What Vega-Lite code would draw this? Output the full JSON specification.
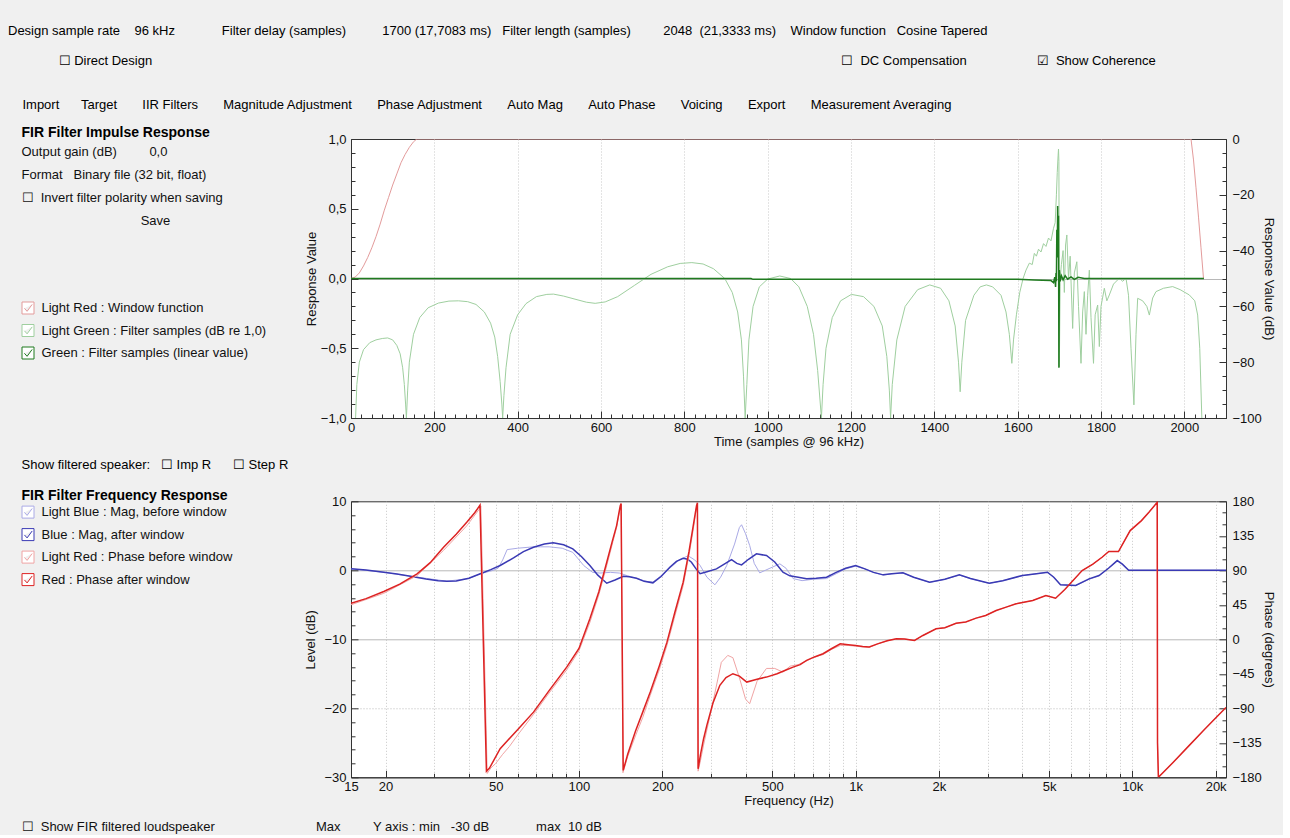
{
  "$schema": "https://vega.github.io/schema/vega-lite/v6.json",
  "background": "#f0f0f0",
  "padding": {"left": 8, "top": 24, "right": 8, "bottom": 0},
  "title": {
    "text": "Design sample rate\u00a0\u00a0\u00a0\u00a096 kHz\u00a0\u00a0\u00a0\u00a0\u00a0\u00a0\u00a0\u00a0\u00a0\u00a0\u00a0\u00a0\u00a0Filter delay (samples)\u00a0\u00a0\u00a0\u00a0\u00a0\u00a0\u00a0\u00a0\u00a0\u00a01700\u00a0(17,7083 ms)\u00a0\u00a0\u00a0Filter length (samples)\u00a0\u00a0\u00a0\u00a0\u00a0\u00a0\u00a0\u00a0\u00a02048\u00a0\u00a0(21,3333 ms)\u00a0\u00a0\u00a0\u00a0Window function\u00a0\u00a0\u00a0Cosine Tapered",
    "subtitle": [
      "\u200b\u00a0\u00a0\u00a0\u00a0\u00a0\u00a0\u00a0\u00a0\u00a0\u00a0\u00a0\u00a0\u00a0\u00a0☐\u00a0Direct Design\u2003\u2003\u2003\u2003\u2003\u2003\u2003\u2003\u2003\u2003\u2003\u2003\u2003\u2003\u2003\u2003\u2003\u2003\u2003\u2003\u2003\u2003\u2003\u2003\u2003\u2003\u2003\u2003\u2003\u2003\u2003\u2003\u2003\u2003\u2003\u2003\u2003\u2003\u2003\u2003\u2003\u2003\u2003\u2003\u2003\u2003\u2003\u2003\u2003\u2003\u2003\u2003\u2003☐\u00a0\u00a0DC Compensation\u2003\u2003\u2003\u2003\u00a0\u00a0\u00a0\u00a0\u00a0☑\u00a0\u00a0Show Coherence",
      "\u200b\u00a0\u00a0\u00a0\u00a0Import\u00a0\u00a0\u00a0\u00a0\u00a0\u00a0Target\u00a0\u00a0\u00a0\u00a0\u00a0\u00a0\u00a0IIR Filters\u00a0\u00a0\u00a0\u00a0\u00a0\u00a0\u00a0Magnitude Adjustment\u00a0\u00a0\u00a0\u00a0\u00a0\u00a0\u00a0Phase Adjustment\u00a0\u00a0\u00a0\u00a0\u00a0\u00a0\u00a0Auto Mag\u00a0\u00a0\u00a0\u00a0\u00a0\u00a0\u00a0Auto Phase\u00a0\u00a0\u00a0\u00a0\u00a0\u00a0\u00a0Voicing\u00a0\u00a0\u00a0\u00a0\u00a0\u00a0\u00a0Export\u00a0\u00a0\u00a0\u00a0\u00a0\u00a0\u00a0Measurement Averaging"
    ],
    "anchor": "start",
    "frame": "bounds",
    "dx": -13,
    "fontSize": 13,
    "fontWeight": "normal",
    "color": "#000",
    "subtitleFontSize": 13,
    "subtitleColor": "#000",
    "subtitleLineHeight": 44,
    "subtitlePadding": 17,
    "offset": 14
  },
  "datasets": {
    "ir_window": [
      {"t": 0, "v": 0}, {"t": 10, "v": 0.01}, {"t": 20, "v": 0.04}, {"t": 30, "v": 0.09}, {"t": 40, "v": 0.15},
      {"t": 50, "v": 0.22}, {"t": 60, "v": 0.3}, {"t": 70, "v": 0.39}, {"t": 80, "v": 0.49}, {"t": 90, "v": 0.58},
      {"t": 100, "v": 0.67}, {"t": 110, "v": 0.75}, {"t": 120, "v": 0.83}, {"t": 130, "v": 0.89}, {"t": 140, "v": 0.94},
      {"t": 150, "v": 0.98}, {"t": 158, "v": 1}, {"t": 2016, "v": 1}, {"t": 2022, "v": 0.85}, {"t": 2028, "v": 0.65},
      {"t": 2034, "v": 0.44}, {"t": 2040, "v": 0.22}, {"t": 2046, "v": 0}
    ],
    "ir_lin": [
      {"t": 0, "v": 0}, {"t": 960, "v": 0}, {"t": 965, "v": -0.006}, {"t": 1600, "v": -0.006}, {"t": 1640, "v": -0.01},
      {"t": 1680, "v": -0.015}, {"t": 1686, "v": -0.03}, {"t": 1689, "v": 0.01}, {"t": 1691, "v": -0.06}, {"t": 1692, "v": 0.04},
      {"t": 1693, "v": -0.02}, {"t": 1694, "v": 0.35}, {"t": 1695, "v": 0.15}, {"t": 1696, "v": 0.52}, {"t": 1697, "v": 0.25},
      {"t": 1698, "v": 0.45}, {"t": 1699, "v": -0.64}, {"t": 1700, "v": 0.06}, {"t": 1702, "v": -0.02}, {"t": 1705, "v": 0.02},
      {"t": 1709, "v": -0.01}, {"t": 1714, "v": 0.02}, {"t": 1720, "v": -0.005}, {"t": 1728, "v": 0.012}, {"t": 1736, "v": -0.006},
      {"t": 1745, "v": 0.008}, {"t": 1760, "v": 0}, {"t": 2047, "v": 0}
    ],
    "ir_db": [
      {"t": 11, "db": -100}, {"t": 14, "db": -88}, {"t": 20, "db": -80}, {"t": 30, "db": -75.5}, {"t": 45, "db": -73},
      {"t": 60, "db": -72}, {"t": 75, "db": -71.5}, {"t": 88, "db": -71.3}, {"t": 100, "db": -72}, {"t": 110, "db": -74},
      {"t": 118, "db": -77}, {"t": 124, "db": -82}, {"t": 128, "db": -88}, {"t": 131, "db": -95}, {"t": 133, "db": -100},
      {"t": 136, "db": -90}, {"t": 140, "db": -80}, {"t": 150, "db": -70}, {"t": 165, "db": -64}, {"t": 185, "db": -60.5},
      {"t": 210, "db": -58.8}, {"t": 235, "db": -58.1}, {"t": 258, "db": -58}, {"t": 280, "db": -58.3}, {"t": 300, "db": -59.3},
      {"t": 320, "db": -62}, {"t": 335, "db": -66}, {"t": 345, "db": -71}, {"t": 352, "db": -78}, {"t": 358, "db": -87},
      {"t": 362, "db": -95}, {"t": 364, "db": -100}, {"t": 367, "db": -92}, {"t": 372, "db": -82}, {"t": 382, "db": -70},
      {"t": 400, "db": -63}, {"t": 420, "db": -59}, {"t": 445, "db": -56.5}, {"t": 470, "db": -55.7}, {"t": 486, "db": -55.6},
      {"t": 510, "db": -56.3}, {"t": 540, "db": -57.5}, {"t": 565, "db": -58.5}, {"t": 586, "db": -58.9}, {"t": 610, "db": -58.4},
      {"t": 640, "db": -56.5}, {"t": 680, "db": -52.5}, {"t": 720, "db": -48.5}, {"t": 760, "db": -45.8}, {"t": 790, "db": -44.6},
      {"t": 818, "db": -44.3}, {"t": 845, "db": -44.8}, {"t": 870, "db": -46.5}, {"t": 897, "db": -50}, {"t": 915, "db": -55},
      {"t": 928, "db": -62}, {"t": 937, "db": -72}, {"t": 942, "db": -85}, {"t": 946, "db": -100}, {"t": 950, "db": -88},
      {"t": 955, "db": -72}, {"t": 965, "db": -60}, {"t": 980, "db": -53}, {"t": 1000, "db": -50.2}, {"t": 1029, "db": -49.1},
      {"t": 1055, "db": -50}, {"t": 1075, "db": -53}, {"t": 1095, "db": -60}, {"t": 1110, "db": -70}, {"t": 1120, "db": -83},
      {"t": 1129, "db": -100}, {"t": 1133, "db": -88}, {"t": 1140, "db": -75}, {"t": 1155, "db": -64}, {"t": 1175, "db": -58},
      {"t": 1201, "db": -55.7}, {"t": 1230, "db": -56.5}, {"t": 1255, "db": -60}, {"t": 1275, "db": -67}, {"t": 1286, "db": -78},
      {"t": 1292, "db": -90}, {"t": 1295, "db": -100}, {"t": 1299, "db": -88}, {"t": 1310, "db": -72}, {"t": 1330, "db": -60},
      {"t": 1360, "db": -54}, {"t": 1389, "db": -52.3}, {"t": 1415, "db": -53.5}, {"t": 1435, "db": -58}, {"t": 1450, "db": -67},
      {"t": 1458, "db": -80}, {"t": 1462, "db": -90.6}, {"t": 1466, "db": -80}, {"t": 1475, "db": -65}, {"t": 1495, "db": -56},
      {"t": 1510, "db": -53}, {"t": 1525, "db": -52.3}, {"t": 1540, "db": -53}, {"t": 1560, "db": -56}, {"t": 1572, "db": -62},
      {"t": 1580, "db": -70}, {"t": 1586, "db": -80.4}, {"t": 1590, "db": -72}, {"t": 1597, "db": -63}, {"t": 1605, "db": -55},
      {"t": 1613, "db": -50}, {"t": 1620, "db": -47}, {"t": 1628, "db": -44.5}, {"t": 1635, "db": -45}, {"t": 1640, "db": -41},
      {"t": 1645, "db": -42}, {"t": 1650, "db": -39.5}, {"t": 1656, "db": -40.5}, {"t": 1662, "db": -37.5}, {"t": 1668, "db": -38.5},
      {"t": 1674, "db": -35.5}, {"t": 1680, "db": -36.5}, {"t": 1686, "db": -32}, {"t": 1690, "db": -30}, {"t": 1693, "db": -20},
      {"t": 1695, "db": -12}, {"t": 1697, "db": -6}, {"t": 1698, "db": -3.6}, {"t": 1699, "db": -8}, {"t": 1700, "db": -81.6},
      {"t": 1702, "db": -50}, {"t": 1705, "db": -45}, {"t": 1709, "db": -40}, {"t": 1712, "db": -55}, {"t": 1715, "db": -38},
      {"t": 1718, "db": -34.4}, {"t": 1722, "db": -50}, {"t": 1726, "db": -42}, {"t": 1732, "db": -67.9}, {"t": 1736, "db": -48},
      {"t": 1742, "db": -44}, {"t": 1746, "db": -60}, {"t": 1752, "db": -80.4}, {"t": 1756, "db": -62}, {"t": 1760, "db": -54.7},
      {"t": 1764, "db": -70}, {"t": 1768, "db": -56}, {"t": 1772, "db": -47}, {"t": 1776, "db": -64}, {"t": 1782, "db": -80.4},
      {"t": 1786, "db": -63}, {"t": 1792, "db": -59.5}, {"t": 1796, "db": -74.4}, {"t": 1800, "db": -60}, {"t": 1808, "db": -53.5},
      {"t": 1814, "db": -58}, {"t": 1820, "db": -55.9}, {"t": 1830, "db": -52}, {"t": 1844, "db": -49.9}, {"t": 1852, "db": -51},
      {"t": 1860, "db": -49.9}, {"t": 1866, "db": -56}, {"t": 1872, "db": -75}, {"t": 1879, "db": -95.3}, {"t": 1884, "db": -70},
      {"t": 1888, "db": -57.1}, {"t": 1900, "db": -58}, {"t": 1910, "db": -60}, {"t": 1916, "db": -63.1}, {"t": 1924, "db": -57},
      {"t": 1932, "db": -54.7}, {"t": 1950, "db": -53.5}, {"t": 1972, "db": -52.9}, {"t": 1990, "db": -54}, {"t": 2012, "db": -55.9},
      {"t": 2025, "db": -58}, {"t": 2032, "db": -63.1}, {"t": 2037, "db": -75}, {"t": 2042, "db": -100}
    ],
    "fr_mag": [
      {"f": 15, "db": 0.21}, {"f": 19.7, "db": -0.28}, {"f": 24.6, "db": -0.86}, {"f": 33.3, "db": -1.58}, {"f": 40, "db": -1.2},
      {"f": 44, "db": -0.5}, {"f": 49, "db": 0.0}, {"f": 51, "db": 0.3}, {"f": 53, "db": 1.5}, {"f": 55, "db": 3.0},
      {"f": 60, "db": 3.2}, {"f": 68.5, "db": 3.4}, {"f": 78, "db": 3.4}, {"f": 87, "db": 3.2}, {"f": 95, "db": 2.6},
      {"f": 104, "db": 0.7}, {"f": 112, "db": -0.3}, {"f": 119, "db": -0.4}, {"f": 130, "db": -0.3}, {"f": 140, "db": -0.4},
      {"f": 150, "db": -0.8}, {"f": 161, "db": -1.15}, {"f": 175, "db": -1.6}, {"f": 185, "db": -1.7}, {"f": 198, "db": -0.8},
      {"f": 213, "db": 0.3}, {"f": 230, "db": 1.5}, {"f": 248, "db": 2.1}, {"f": 262, "db": 1.5}, {"f": 274, "db": 0.7},
      {"f": 290, "db": -1.0}, {"f": 310, "db": -2.1}, {"f": 325, "db": -1.0}, {"f": 342, "db": 0.7}, {"f": 365, "db": 3.8},
      {"f": 380, "db": 6.2}, {"f": 387, "db": 6.6}, {"f": 400, "db": 5.3}, {"f": 414, "db": 3.6}, {"f": 430, "db": 1.0},
      {"f": 450, "db": -0.37}, {"f": 490, "db": 0.3}, {"f": 532, "db": 0.94}, {"f": 560, "db": 0.3}, {"f": 594, "db": -1.2},
      {"f": 640, "db": -1.5}, {"f": 700, "db": -1.3}, {"f": 785, "db": -1.2}, {"f": 850, "db": -0.5}, {"f": 920, "db": 0.2},
      {"f": 1000, "db": 0.6}, {"f": 1080, "db": 0.2}, {"f": 1160, "db": -0.3}, {"f": 1258, "db": -0.7}, {"f": 1350, "db": -0.5},
      {"f": 1482, "db": -0.4}, {"f": 1620, "db": -1.0}, {"f": 1850, "db": -1.75}, {"f": 2100, "db": -1.3}, {"f": 2370, "db": -0.7},
      {"f": 2600, "db": -1.2}, {"f": 3040, "db": -1.9}, {"f": 3400, "db": -1.5}, {"f": 4000, "db": -0.8}, {"f": 4500, "db": -0.5},
      {"f": 4935, "db": -0.3}, {"f": 5200, "db": -1.0}, {"f": 5500, "db": -2.1}, {"f": 6240, "db": -2.2}, {"f": 6975, "db": -1.3},
      {"f": 7580, "db": -0.8}, {"f": 8200, "db": 0.3}, {"f": 8820, "db": 1.4}, {"f": 9200, "db": 0.9}, {"f": 9700, "db": 0},
      {"f": 21800, "db": 0}
    ],
    "fr_magw": [
      {"f": 15, "db": 0.21}, {"f": 17, "db": 0.05}, {"f": 19.7, "db": -0.28}, {"f": 22, "db": -0.55}, {"f": 24.6, "db": -0.86},
      {"f": 28, "db": -1.25}, {"f": 31, "db": -1.5}, {"f": 33.3, "db": -1.58}, {"f": 36, "db": -1.55}, {"f": 40, "db": -1.15},
      {"f": 44, "db": -0.5}, {"f": 48, "db": 0.1}, {"f": 51.9, "db": 0.7}, {"f": 58, "db": 1.8}, {"f": 63, "db": 2.7},
      {"f": 68.5, "db": 3.34}, {"f": 75, "db": 3.8}, {"f": 80.7, "db": 3.98}, {"f": 88, "db": 3.7}, {"f": 95, "db": 3.1},
      {"f": 102, "db": 2.0}, {"f": 109.5, "db": 0.7}, {"f": 117, "db": -0.7}, {"f": 126, "db": -1.87}, {"f": 135, "db": -1.4},
      {"f": 144.6, "db": -0.86}, {"f": 152, "db": -0.95}, {"f": 161.5, "db": -1.15}, {"f": 172, "db": -1.6}, {"f": 185, "db": -1.82},
      {"f": 198, "db": -0.9}, {"f": 213, "db": 0.45}, {"f": 225, "db": 1.3}, {"f": 238, "db": 1.75}, {"f": 247, "db": 1.6},
      {"f": 255, "db": 1.17}, {"f": 265, "db": 0.2}, {"f": 274, "db": -0.5}, {"f": 290, "db": -0.2}, {"f": 314, "db": 0.2},
      {"f": 335, "db": 0.9}, {"f": 356, "db": 1.56}, {"f": 372, "db": 1.0}, {"f": 387, "db": 0.79}, {"f": 410, "db": 1.6},
      {"f": 438, "db": 2.38}, {"f": 476, "db": 2.14}, {"f": 510, "db": 1.2}, {"f": 546, "db": -0.28}, {"f": 578, "db": -0.8},
      {"f": 620, "db": -1.0}, {"f": 665, "db": -1.24}, {"f": 720, "db": -1.15}, {"f": 785, "db": -1.0}, {"f": 850, "db": -0.3},
      {"f": 920, "db": 0.3}, {"f": 1000, "db": 0.7}, {"f": 1080, "db": 0.2}, {"f": 1160, "db": -0.3}, {"f": 1258, "db": -0.66},
      {"f": 1350, "db": -0.5}, {"f": 1482, "db": -0.37}, {"f": 1620, "db": -1.0}, {"f": 1850, "db": -1.73}, {"f": 2100, "db": -1.3},
      {"f": 2370, "db": -0.66}, {"f": 2600, "db": -1.2}, {"f": 3040, "db": -1.87}, {"f": 3400, "db": -1.5}, {"f": 4000, "db": -0.75},
      {"f": 4500, "db": -0.5}, {"f": 4935, "db": -0.28}, {"f": 5200, "db": -1.0}, {"f": 5500, "db": -2.1}, {"f": 6240, "db": -2.2},
      {"f": 6975, "db": -1.24}, {"f": 7580, "db": -0.75}, {"f": 8200, "db": 0.3}, {"f": 8820, "db": 1.41}, {"f": 9200, "db": 0.9},
      {"f": 9700, "db": 0}, {"f": 21800, "db": 0}
    ],
    "fr_ph": [
      {"f": 15, "deg": 45}, {"f": 19.7, "deg": 60}, {"f": 26, "deg": 83}, {"f": 32.4, "deg": 116}, {"f": 39.3, "deg": 148},
      {"f": 43.7, "deg": 170}, {"f": 44.2, "deg": 174}, {"f": 46.6, "deg": -175}, {"f": 48, "deg": -168}, {"f": 50, "deg": -162},
      {"f": 53, "deg": -150}, {"f": 56, "deg": -140}, {"f": 60, "deg": -125}, {"f": 68.5, "deg": -98}, {"f": 78, "deg": -70},
      {"f": 90.3, "deg": -40}, {"f": 100, "deg": -15}, {"f": 109.5, "deg": 22}, {"f": 118, "deg": 58}, {"f": 126, "deg": 96},
      {"f": 136.8, "deg": 146}, {"f": 141, "deg": 172}, {"f": 142, "deg": 176}, {"f": 144.2, "deg": -174}, {"f": 150, "deg": -153},
      {"f": 160, "deg": -126}, {"f": 170, "deg": -102}, {"f": 181, "deg": -73}, {"f": 195, "deg": -40}, {"f": 208, "deg": -8},
      {"f": 222, "deg": 30}, {"f": 238, "deg": 70}, {"f": 250, "deg": 110}, {"f": 258, "deg": 140}, {"f": 266, "deg": 172},
      {"f": 268, "deg": 176}, {"f": 269.5, "deg": -172}, {"f": 275, "deg": -158}, {"f": 282, "deg": -138}, {"f": 305, "deg": -82},
      {"f": 327, "deg": -30}, {"f": 345, "deg": -21}, {"f": 360, "deg": -24}, {"f": 380, "deg": -50}, {"f": 400, "deg": -78},
      {"f": 414, "deg": -84}, {"f": 440, "deg": -55}, {"f": 476, "deg": -38}, {"f": 510, "deg": -38}, {"f": 546, "deg": -42.8},
      {"f": 580, "deg": -35}, {"f": 620, "deg": -33}, {"f": 665, "deg": -28}, {"f": 710, "deg": -23}, {"f": 762, "deg": -20},
      {"f": 820, "deg": -13}, {"f": 880, "deg": -8}, {"f": 940, "deg": -8}, {"f": 1000, "deg": -9}, {"f": 1060, "deg": -10},
      {"f": 1120, "deg": -10.5}, {"f": 1200, "deg": -6}, {"f": 1300, "deg": -2}, {"f": 1404, "deg": 0.7}, {"f": 1500, "deg": 0.5},
      {"f": 1632, "deg": -1.5}, {"f": 1750, "deg": 5}, {"f": 1953, "deg": 13.8}, {"f": 2100, "deg": 15}, {"f": 2307, "deg": 21},
      {"f": 2500, "deg": 22.5}, {"f": 2725, "deg": 27.6}, {"f": 2950, "deg": 31}, {"f": 3220, "deg": 37.6}, {"f": 3500, "deg": 42},
      {"f": 3800, "deg": 46.3}, {"f": 4365, "deg": 50.6}, {"f": 4870, "deg": 57.1}, {"f": 5280, "deg": 53.6}, {"f": 5700, "deg": 65},
      {"f": 6585, "deg": 89.7}, {"f": 7200, "deg": 98}, {"f": 7770, "deg": 107}, {"f": 8220, "deg": 114.5}, {"f": 8910, "deg": 114.5},
      {"f": 9820, "deg": 141.8}, {"f": 10790, "deg": 154.8}, {"f": 11500, "deg": 166}, {"f": 12300, "deg": 178.7}, {"f": 12330, "deg": -135},
      {"f": 12420, "deg": -180}, {"f": 14000, "deg": -161}, {"f": 16000, "deg": -139}, {"f": 18000, "deg": -119.7}, {"f": 20000, "deg": -102.7},
      {"f": 21800, "deg": -89}
    ],
    "fr_phw": [
      {"f": 15, "deg": 47}, {"f": 17, "deg": 53}, {"f": 19.7, "deg": 62.4}, {"f": 22.5, "deg": 72}, {"f": 26, "deg": 85.4},
      {"f": 29, "deg": 100}, {"f": 32.4, "deg": 120}, {"f": 36, "deg": 137}, {"f": 39.3, "deg": 152.6}, {"f": 42, "deg": 165},
      {"f": 43.9, "deg": 175}, {"f": 46.3, "deg": -172}, {"f": 47.5, "deg": -168}, {"f": 51.9, "deg": -142.6}, {"f": 60, "deg": -118},
      {"f": 68.5, "deg": -95}, {"f": 78, "deg": -67}, {"f": 90.3, "deg": -36.3}, {"f": 100, "deg": -12}, {"f": 109.5, "deg": 26.8},
      {"f": 118, "deg": 62}, {"f": 126, "deg": 100.5}, {"f": 132, "deg": 128}, {"f": 136.8, "deg": 148.3}, {"f": 141, "deg": 174.4},
      {"f": 142, "deg": 177}, {"f": 144.5, "deg": -171}, {"f": 150, "deg": -150}, {"f": 160, "deg": -120}, {"f": 170, "deg": -95},
      {"f": 181, "deg": -68.8}, {"f": 195, "deg": -35}, {"f": 208, "deg": -3.7}, {"f": 222, "deg": 35}, {"f": 238, "deg": 74.5},
      {"f": 250, "deg": 115}, {"f": 258, "deg": 145}, {"f": 266, "deg": 174.4}, {"f": 268, "deg": 178}, {"f": 269.5, "deg": -169},
      {"f": 275, "deg": -150}, {"f": 282, "deg": -130}, {"f": 290, "deg": -112}, {"f": 305, "deg": -83}, {"f": 323, "deg": -60},
      {"f": 340, "deg": -50}, {"f": 360, "deg": -44.9}, {"f": 380, "deg": -48}, {"f": 404, "deg": -55.8}, {"f": 440, "deg": -52},
      {"f": 476, "deg": -49.3}, {"f": 520, "deg": -45}, {"f": 560, "deg": -40}, {"f": 594, "deg": -36.3}, {"f": 630, "deg": -33},
      {"f": 665, "deg": -27.5}, {"f": 710, "deg": -23}, {"f": 762, "deg": -18.8}, {"f": 820, "deg": -12}, {"f": 880, "deg": -5.8},
      {"f": 940, "deg": -7}, {"f": 1000, "deg": -8}, {"f": 1060, "deg": -9.3}, {"f": 1120, "deg": -10}, {"f": 1200, "deg": -6},
      {"f": 1300, "deg": -2}, {"f": 1404, "deg": 0.7}, {"f": 1500, "deg": 0.5}, {"f": 1632, "deg": -1.5}, {"f": 1750, "deg": 5},
      {"f": 1953, "deg": 13.8}, {"f": 2100, "deg": 15}, {"f": 2307, "deg": 21}, {"f": 2500, "deg": 22.5}, {"f": 2725, "deg": 27.6},
      {"f": 2950, "deg": 31}, {"f": 3220, "deg": 37.6}, {"f": 3500, "deg": 42}, {"f": 3800, "deg": 46.3}, {"f": 4365, "deg": 50.6},
      {"f": 4870, "deg": 57.1}, {"f": 5280, "deg": 53.6}, {"f": 5700, "deg": 65}, {"f": 6585, "deg": 89.7}, {"f": 7200, "deg": 98},
      {"f": 7770, "deg": 107}, {"f": 8220, "deg": 114.5}, {"f": 8910, "deg": 114.5}, {"f": 9820, "deg": 141.8}, {"f": 10790, "deg": 154.8},
      {"f": 11500, "deg": 166}, {"f": 12300, "deg": 178.7}, {"f": 12330, "deg": -135}, {"f": 12420, "deg": -180}, {"f": 14000, "deg": -161},
      {"f": 16000, "deg": -139}, {"f": 18000, "deg": -119.7}, {"f": 20000, "deg": -102.7}, {"f": 21800, "deg": -89}
    ]
  },
  "resolve": {"scale": {"color": "independent"}, "legend": {"color": "independent"}},
  "spacing": 8.3,
  "vconcat": [
    {
      "width": 875,
      "height": 279,
      "title": {"text": "FIR Filter Impulse Response", "anchor": "start", "frame": "bounds", "fontSize": 14, "fontWeight": "bold", "color": "#000", "offset": -7.3},
      "encoding": {
        "x": {
          "field": "t", "type": "quantitative",
          "scale": {"domain": [0, 2100], "nice": false},
          "axis": {
            "title": "Time (samples @ 96 kHz)",
            "values": [0,25,50,75,100,125,150,175,200,225,250,275,300,325,350,375,400,425,450,475,500,525,550,575,600,625,650,675,700,725,750,775,800,825,850,875,900,925,950,975,1000,1025,1050,1075,1100,1125,1150,1175,1200,1225,1250,1275,1300,1325,1350,1375,1400,1425,1450,1475,1500,1525,1550,1575,1600,1625,1650,1675,1700,1725,1750,1775,1800,1825,1850,1875,1900,1925,1950,1975,2000,2025,2050,2075,2100],
            "labelExpr": "datum.value % 200 === 0 ? format(datum.value, 'd') : ''",
            "labelOverlap": false,
            "tickSize": {"condition": {"test": "datum.value % 200 === 0", "value": -7}, "value": -4},
            "grid": true,
            "gridDash": [1, 2],
            "gridOpacity": {"condition": {"test": "datum.value % 200 === 0 && datum.value > 0", "value": 1}, "value": 0},
            "labelPadding": 10,
            "titlePadding": -2
          }
        }
      },
      "layer": [
        {
          "data": {"name": "ir_db"},
          "mark": {"type": "line", "strokeWidth": 1, "clip": true},
          "encoding": {
            "y": {
              "field": "db", "type": "quantitative",
              "scale": {"domain": [-100, 0], "nice": false},
              "axis": {
                "orient": "right",
                "title": "Response Value (dB)",
                "values": [-100,-95,-90,-85,-80,-75,-70,-65,-60,-55,-50,-45,-40,-35,-30,-25,-20,-15,-10,-5,0],
                "labelExpr": "datum.value % 20 === 0 ? format(datum.value, 'd') : ''",
                "labelOverlap": false,
                "tickSize": {"condition": {"test": "datum.value % 20 === 0", "value": -7}, "value": -4},
                "grid": false,
                "labelPadding": 13,
                "titlePadding": 0
              }
            },
            "color": {
              "datum": "Light Green : Filter samples (dB re 1,0)",
              "type": "nominal",
              "scale": {
                "domain": ["Light Red : Window function", "Light Green : Filter samples (dB re 1,0)", "Green : Filter samples (linear value)"],
                "range": ["#e39b9b", "#9fcf9f", "#1f7a1f"]
              },
              "legend": {
                "orient": "none",
                "legendX": -329.5,
                "legendY": 6.5,
                "title": ["Output gain (dB)\u00a0\u00a0\u00a0\u00a0\u00a0\u00a0\u00a0\u00a0\u00a00,0", "Format\u00a0\u00a0\u00a0Binary file (32 bit, float)", "☐\u00a0\u00a0Invert filter polarity when saving", "\u200b\u00a0\u00a0\u00a0\u00a0\u00a0\u00a0\u00a0\u00a0\u00a0\u00a0\u00a0\u00a0\u00a0\u00a0\u00a0\u00a0\u00a0\u00a0\u00a0\u00a0\u00a0\u00a0\u00a0\u00a0\u00a0\u00a0\u00a0\u00a0\u00a0\u00a0\u00a0\u00a0\u00a0Save"],
                "titleLineHeight": 23,
                "titlePadding": 74,
                "encode": {"symbols": {"update": {"stroke": {"value": "#444"}, "fill": {"value": "#fff"}, "strokeWidth": {"value": 1}}}}
              }
            }
          }
        },
        {
          "encoding": {
            "y": {
              "field": "v", "type": "quantitative",
              "scale": {"domain": [-1, 1], "nice": false},
              "axis": {
                "orient": "left",
                "title": "Response Value",
                "values": [-1,-0.9,-0.8,-0.7,-0.6,-0.5,-0.4,-0.3,-0.2,-0.1,0,0.1,0.2,0.3,0.4,0.5,0.6,0.7,0.8,0.9,1],
                "labelExpr": "abs(datum.value*2 - round(datum.value*2)) < 0.01 ? replace(format(datum.value, '.1f'), '.', ',') : ''",
                "labelOverlap": false,
                "tickSize": {"condition": {"test": "abs(datum.value*2 - round(datum.value*2)) < 0.01", "value": -7}, "value": -4},
                "grid": true,
                "gridColor": "#b8b8b8",
                "gridOpacity": {"condition": {"test": "abs(datum.value) < 0.01", "value": 1}, "value": 0},
                "labelPadding": 12,
                "titlePadding": 2
              }
            }
          },
          "layer": [
            {
              "data": {"name": "ir_window"},
              "mark": {"type": "line", "strokeWidth": 1, "clip": true},
              "encoding": {"color": {"datum": "Light Red : Window function", "type": "nominal"}}
            },
            {
              "data": {"name": "ir_lin"},
              "mark": {"type": "line", "strokeWidth": 1.5, "clip": true},
              "encoding": {"color": {"datum": "Green : Filter samples (linear value)", "type": "nominal"}}
            }
          ]
        }
      ],
      "resolve": {"scale": {"y": "independent"}}
    },
    {
      "width": 875,
      "height": 276,
      "title": {
        "text": "Show filtered speaker:\u00a0\u00a0\u00a0☐\u00a0Imp R\u00a0\u00a0\u00a0\u00a0\u00a0\u00a0☐\u00a0Step R",
        "subtitle": "FIR Filter Frequency Response",
        "anchor": "start", "frame": "bounds", "fontSize": 13, "fontWeight": "normal", "color": "#000",
        "subtitleFontSize": 14, "subtitleFontWeight": "bold", "subtitleColor": "#000", "subtitlePadding": 17, "offset": -7.3
      },
      "encoding": {
        "x": {
          "field": "f", "type": "quantitative",
          "scale": {"type": "log", "domain": [15, 21800], "nice": false},
          "axis": {
            "title": "Frequency (Hz)",
            "values": [15,20,30,40,50,60,70,80,90,100,200,300,400,500,600,700,800,900,1000,2000,3000,4000,5000,6000,7000,8000,9000,10000,20000],
            "labelExpr": "indexof([15,20,50,100,200,500], datum.value) >= 0 ? format(datum.value, 'd') : (indexof([1000,2000,5000,10000,20000], datum.value) >= 0 ? format(datum.value/1000, 'd') + 'k' : '')",
            "labelOverlap": false,
            "tickSize": {"condition": {"test": "indexof([15,20,50,100,200,500,1000,2000,5000,10000,20000], datum.value) >= 0", "value": -7}, "value": -4},
            "grid": true,
            "gridDash": [1, 2],
            "gridOpacity": {"condition": {"test": "datum.value > 15", "value": 1}, "value": 0},
            "labelPadding": 10,
            "titlePadding": -2
          }
        }
      },
      "layer": [
        {
          "encoding": {
            "y": {
              "field": "db", "type": "quantitative",
              "scale": {"domain": [-30, 10], "nice": false},
              "axis": {
                "orient": "left",
                "title": "Level (dB)",
                "values": [-30,-28,-26,-24,-22,-20,-18,-16,-14,-12,-10,-8,-6,-4,-2,0,2,4,6,8,10],
                "labelExpr": "datum.value % 10 === 0 ? format(datum.value, 'd') : ''",
                "labelOverlap": false,
                "tickSize": {"condition": {"test": "datum.value % 10 === 0", "value": -7}, "value": -4},
                "grid": true,
                "gridColor": "#b8b8b8",
                "gridDash": {"condition": {"test": "datum.value === -20", "value": [1, 2]}, "value": []},
                "gridOpacity": {"condition": {"test": "datum.value === 0 || datum.value === -10 || datum.value === -20", "value": 1}, "value": 0},
                "labelPadding": 12,
                "titlePadding": 6
              }
            }
          },
          "layer": [
            {
              "data": {"name": "fr_mag"},
              "mark": {"type": "line", "strokeWidth": 1, "clip": true},
              "encoding": {
                "color": {
                  "datum": "Light Blue : Mag, before window",
                  "type": "nominal",
                  "scale": {
                    "domain": ["Light Blue : Mag, before window", "Blue : Mag, after window", "Light Red : Phase before window", "Red : Phase after window"],
                    "range": ["#aaaae6", "#3a3ab4", "#f0a4a4", "#dd2222"]
                  },
                  "legend": {
                    "orient": "none", "legendX": -329.5, "legendY": 4.3,
                    "title": "☐\u00a0\u00a0Show FIR filtered loudspeaker\u00a0\u00a0\u00a0\u00a0\u00a0\u00a0\u00a0\u00a0\u00a0\u00a0\u00a0\u00a0\u00a0\u00a0\u00a0\u00a0\u00a0\u00a0\u00a0\u00a0\u00a0\u00a0\u00a0\u00a0\u00a0\u00a0\u00a0\u00a0Max\u00a0\u00a0\u00a0\u00a0\u00a0\u00a0\u00a0\u00a0\u00a0Y axis : min\u00a0\u00a0\u00a0-30 dB\u00a0\u00a0\u00a0\u00a0\u00a0\u00a0\u00a0\u00a0\u00a0\u00a0\u00a0\u00a0\u00a0max\u00a0\u00a010 dB",
                    "titleOrient": "bottom",
                    "titleAnchor": "start",
                    "titlePadding": 233,
                    "encode": {"symbols": {"update": {"stroke": {"value": "#444"}, "fill": {"value": "#fff"}, "strokeWidth": {"value": 1}}}}
                  }
                }
              }
            },
            {
              "data": {"name": "fr_magw"},
              "mark": {"type": "line", "strokeWidth": 1.5, "clip": true},
              "encoding": {"color": {"datum": "Blue : Mag, after window", "type": "nominal"}}
            }
          ]
        },
        {
          "encoding": {
            "y": {
              "field": "deg", "type": "quantitative",
              "scale": {"domain": [-180, 180], "nice": false},
              "axis": {
                "orient": "right",
                "title": "Phase (degrees)",
                "values": [-180,-165,-150,-135,-120,-105,-90,-75,-60,-45,-30,-15,0,15,30,45,60,75,90,105,120,135,150,165,180],
                "labelExpr": "datum.value % 45 === 0 ? format(datum.value, 'd') : ''",
                "labelOverlap": false,
                "tickSize": {"condition": {"test": "datum.value % 45 === 0", "value": -7}, "value": -4},
                "grid": false,
                "labelPadding": 13,
                "titlePadding": 0
              }
            }
          },
          "layer": [
            {
              "data": {"name": "fr_ph"},
              "mark": {"type": "line", "strokeWidth": 1, "clip": true},
              "encoding": {"color": {"datum": "Light Red : Phase before window", "type": "nominal"}}
            },
            {
              "data": {"name": "fr_phw"},
              "mark": {"type": "line", "strokeWidth": 1.5, "clip": true},
              "encoding": {"color": {"datum": "Red : Phase after window", "type": "nominal"}}
            }
          ]
        }
      ],
      "resolve": {"scale": {"y": "independent"}}
    }
  ],
  "config": {
    "font": "Liberation Sans",
    "view": {"fill": "white", "stroke": "#333", "strokeWidth": 1},
    "axis": {
      "labelFont": "Liberation Sans", "labelFontSize": 13, "labelColor": "#111",
      "titleFont": "Liberation Sans", "titleFontSize": 13, "titleFontWeight": "normal", "titleColor": "#111",
      "domainColor": "#333", "tickColor": "#333", "gridColor": "#c8c8c8",
      "labelOverlap": false, "labelFlush": false, "labelBound": false
    },
    "legend": {
      "labelFont": "Liberation Sans", "labelFontSize": 13, "labelColor": "#111", "labelLimit": 400, "labelOffset": 7,
      "titleFont": "Liberation Sans", "titleFontSize": 13, "titleFontWeight": "normal", "titleColor": "#111", "titleLimit": 700,
      "symbolType": "M-1,-1H1V1H-1Z M-0.6,0.05L-0.15,0.55L0.7,-0.6",
      "symbolSize": 144, "symbolStrokeWidth": 1, "symbolStrokeColor": "#444", "symbolFillColor": "#fff",
      "rowPadding": 5.5, "padding": 0
    },
    "title": {"font": "Liberation Sans", "subtitleFont": "Liberation Sans"}
  }
}
